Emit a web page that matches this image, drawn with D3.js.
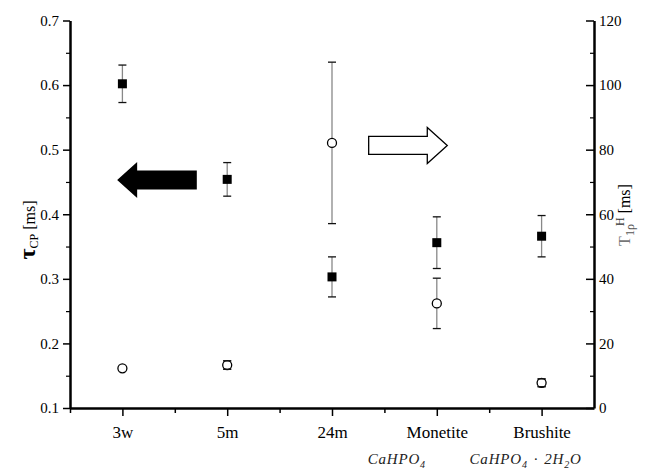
<!DOCTYPE html>
<html><head><meta charset="utf-8">
<script src="https://cdn.jsdelivr.net/npm/d3@7"></script>
<style>body{margin:0;background:#fff}svg{display:block}</style>
</head><body><svg id="c" width="651" height="473"></svg>
<script>
// ---- data ----
const categories = ["3w", "5m", "24m", "Monetite", "Brushite"];
// chemical formulas under the labels: [text, subscript?] parts
const formulas = [null, null, null,
  [["CaHPO", 0], ["4", 1]],
  [["CaHPO", 0], ["4", 1], ["·", 0], ["2H", 0], ["2", 1], ["O", 0]]];
const tauCP = [0.602, 0.454, 0.303, 0.356, 0.366];      // left axis, filled squares
const tauCPErr = [0.029, 0.026, 0.031, 0.040, 0.032];
const t1rho = [12.3, 13.3, 82.1, 32.4, 7.8];              // right axis, open circles
const t1rhoErr = [0, 1.3, 25.0, 7.8, 1.2];
const leftTicks = [0.1, 0.2, 0.3, 0.4, 0.5, 0.6, 0.7];
const leftMinor = [0.15, 0.25, 0.35, 0.45, 0.55, 0.65];
const rightTicks = [0, 20, 40, 60, 80, 100, 120];
const rightMinor = [10, 30, 50, 70, 90, 110];
const xMinor = [0.5, 1.5, 2.5, 3.5, 4.5];
// arrows (data coords): left arrow on left axis, right arrow on right axis
const leftArrow = {x0: 0.95, x1: 1.71, y: 0.453};
const rightArrow = {x0: 3.35, x1: 4.10, y: 81.3};

// ---- layout ----
const svg = d3.select("#c");
const L = 70, R = 594, T = 20.5, B = 408;
const x = d3.scaleLinear().domain([0.5, 5.5]).range([L, R]);
const yL = d3.scaleLinear().domain([0.1, 0.7]).range([B, T]);
const yR = d3.scaleLinear().domain([0, 120]).range([B, T]);
const serif = "'Liberation Serif','DejaVu Serif',serif";

function styleAxis(g, lw) {
  g.select(".domain").attr("stroke", "#000").attr("stroke-width", lw);
  g.selectAll(".tick line").attr("stroke", "#000").attr("stroke-width", 1.5);
  g.selectAll("text").attr("font-family", serif).attr("fill", "#000");
}

// left axis
const gl = svg.append("g").attr("transform", `translate(${L},0)`)
  .call(d3.axisLeft(yL).tickValues(leftTicks).tickFormat(d3.format(".1f"))
    .tickSizeInner(7).tickSizeOuter(0).tickPadding(4));
styleAxis(gl, 2.5);
gl.selectAll("text").attr("font-size", 15);
svg.append("g").attr("transform", `translate(${L},0)`)
  .call(d3.axisLeft(yL).tickValues(leftMinor).tickFormat("").tickSizeInner(4).tickSizeOuter(0))
  .call(g => { g.select(".domain").remove(); g.selectAll("line").attr("stroke", "#000").attr("stroke-width", 1.2); });

// right axis (ticks inward)
const gr = svg.append("g").attr("transform", `translate(${R},0)`)
  .call(d3.axisRight(yR).tickValues(rightTicks)
    .tickSizeInner(-8).tickSizeOuter(0).tickPadding(5));
styleAxis(gr, 2.5);
gr.selectAll("text").attr("font-size", 15);
svg.append("g").attr("transform", `translate(${R},0)`)
  .call(d3.axisRight(yR).tickValues(rightMinor).tickFormat("").tickSizeInner(-4).tickSizeOuter(0))
  .call(g => { g.select(".domain").remove(); g.selectAll("line").attr("stroke", "#000").attr("stroke-width", 1.2); });

// bottom axis
const gb = svg.append("g").attr("transform", `translate(0,${B})`)
  .call(d3.axisBottom(x).tickValues([1, 2, 3, 4, 5]).tickFormat(d => categories[d - 1])
    .tickSizeInner(8).tickSizeOuter(0).tickPadding(10));
styleAxis(gb, 2.5);
gb.selectAll("text").attr("font-size", 17);
svg.append("g").attr("transform", `translate(0,${B})`)
  .call(d3.axisBottom(x).tickValues(xMinor).tickFormat("").tickSizeInner(5).tickSizeOuter(0))
  .call(g => { g.select(".domain").remove(); g.selectAll("line").attr("stroke", "#000").attr("stroke-width", 1.5); });

// formulas
const formulaShift = [0, 0, 0, -40, -16];
formulas.forEach((f, i) => {
  if (!f) return;
  const t = svg.append("text").attr("x", x(i + 1) + formulaShift[i]).attr("y", 464)
    .attr("text-anchor", "middle").attr("font-family", serif).attr("font-style", "italic")
    .attr("font-size", 15).attr("fill", "#222").attr("letter-spacing", 0.8);
  let off = 0;
  f.forEach(([s, sub], k) => {
    const target = sub ? 4 : 0;
    const sp = (s === "·" || (k > 0 && f[k - 1][0] === "·")) ? 6 : 0;
    t.append("tspan").text(s).attr("font-size", sub ? 10 : 15).attr("dy", target - off).attr("dx", sp);
    off = target;
  });
});

// error bars
function errBars(vals, errs, y) {
  const g = svg.append("g");
  vals.forEach((v, i) => {
    if (!errs[i]) return;
    const cx = x(i + 1);
    g.append("line").attr("x1", cx).attr("x2", cx).attr("y1", y(v - errs[i])).attr("y2", y(v + errs[i]))
      .attr("stroke", "#888").attr("stroke-width", 1.3);
    [v - errs[i], v + errs[i]].forEach(e => g.append("line").attr("x1", cx - 4).attr("x2", cx + 4)
      .attr("y1", y(e)).attr("y2", y(e)).attr("stroke", "#111").attr("stroke-width", 1.3));
  });
}

errBars(tauCP, tauCPErr, yL);
errBars(t1rho, t1rhoErr, yR);
// circles over error stems
svg.append("g").selectAll("circle").data(t1rho).join("circle")
  .attr("cx", (d, i) => x(i + 1)).attr("cy", d => yR(d)).attr("r", 4.5)
  .attr("fill", "#fff").attr("stroke", "#000").attr("stroke-width", 1.3);
// squares
svg.append("g").selectAll("rect").data(tauCP).join("rect")
  .attr("x", (d, i) => x(i + 1) - 4.5).attr("y", d => yL(d) - 4.5)
  .attr("width", 9).attr("height", 9).attr("fill", "#000");
// tiny error caps re-drawn on top of circles
svg.append("g").selectAll("line").data(t1rho.flatMap((v, i) => t1rhoErr[i] && t1rhoErr[i] < 3 ? [[i, v - t1rhoErr[i]], [i, v + t1rhoErr[i]]] : []))
  .join("line").attr("x1", d => x(d[0] + 1) - 4).attr("x2", d => x(d[0] + 1) + 4)
  .attr("y1", d => yR(d[1])).attr("y2", d => yR(d[1])).attr("stroke", "#111").attr("stroke-width", 1.3);

// arrows
function arrowPath(xs, xe, yc, hw, hh, hl) {
  const dir = Math.sign(xe - xs);
  const hb = xe - dir * hl;
  return `M${xs},${yc - hw}L${hb},${yc - hw}L${hb},${yc - hh}L${xe},${yc}L${hb},${yc + hh}L${hb},${yc + hw}L${xs},${yc + hw}Z`;
}
svg.append("path")
  .attr("d", arrowPath(x(leftArrow.x1), x(leftArrow.x0), yL(leftArrow.y), 9.5, 18, 20))
  .attr("fill", "#000");
svg.append("path")
  .attr("d", arrowPath(x(rightArrow.x0), x(rightArrow.x1), yR(rightArrow.y), 9, 18, 20))
  .attr("fill", "#fff").attr("stroke", "#000").attr("stroke-width", 1.3);

// axis titles
const lt = svg.append("text").attr("transform", `translate(35,230) rotate(-90)`)
  .attr("text-anchor", "middle").attr("font-family", serif).attr("fill", "#000");
lt.append("tspan").text("τ").attr("font-size", 24).attr("font-weight", "bold");
lt.append("tspan").text("CP").attr("font-size", 12).attr("dy", 3);
lt.append("tspan").text(" [ms]").attr("font-size", 16).attr("dy", -3);

const rt = svg.append("text").attr("transform", `translate(630,215) rotate(-90)`)
  .attr("text-anchor", "middle").attr("font-family", serif).attr("fill", "#333");
rt.append("tspan").text("T").attr("font-size", 16).attr("fill", "#777");
rt.append("tspan").text("1ρ").attr("font-size", 12).attr("dy", 4).attr("fill", "#555");
rt.append("tspan").text("H").attr("font-size", 12).attr("dy", -10).attr("dx", -2);
rt.append("tspan").text(" [ms]").attr("font-size", 16).attr("dy", 6).attr("fill", "#000");
</script></body></html>
